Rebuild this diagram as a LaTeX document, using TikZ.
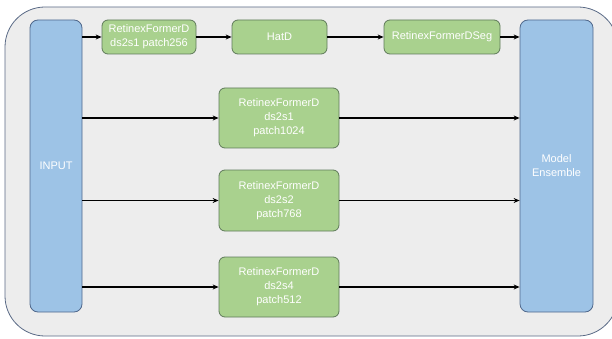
\documentclass[tikz,border=0pt]{standalone}
\usepackage{fontspec}
\setmainfont{Liberation Sans}
\usetikzlibrary{arrows.meta}
\definecolor{outerfill}{HTML}{EDEDED}
\definecolor{outerline}{HTML}{5A6A86}
\definecolor{bluefill}{HTML}{9DC3E6}
\definecolor{blueline}{HTML}{50688C}
\definecolor{greenfill}{HTML}{A9D18E}
\definecolor{greenline}{HTML}{5F7A5A}
\tikzset{
  blk/.style={draw=blueline, fill=bluefill, line width=0.8pt, rounded corners=8pt, text=white, font=\fontsize{11}{14}\selectfont, align=center, inner sep=0pt},
  grn/.style={draw=greenline, fill=greenfill, line width=0.8pt, rounded corners=6pt, text=white, font=\fontsize{11}{14}\selectfont, align=center, inner sep=0pt},
  arr/.style={line width=1.3pt, -{Stealth[length=6pt,width=5pt]}}
}
\begin{document}
\begin{tikzpicture}[x=1pt,y=-1pt]
\useasboundingbox (0,0) rectangle (612,339);
\begin{scope}
\clip (0,0) rectangle (612,339);
\draw[outerline, fill=outerfill, line width=0.8pt, rounded corners=40pt] (5,7) rectangle (618,336);
\end{scope}
% blue columns
\node[blk, minimum width=52pt, minimum height=292pt] (in) at (56,166) {INPUT};
\node[blk, minimum width=73pt, minimum height=292pt] (ens) at (556.5,166) {Model\\Ensemble};
% top row
\node[grn, minimum width=94pt, minimum height=34pt] (r1) at (149,37) {RetinexFormerD\\ds2s1 patch256};
\node[grn, minimum width=95pt, minimum height=34pt] (hat) at (279.5,37) {HatD};
\node[grn, minimum width=116pt, minimum height=34pt] (seg) at (442,37) {RetinexFormerDSeg};
% middle column
\node[grn, minimum width=120pt, minimum height=60pt] (m1) at (279,118) {RetinexFormerD\\ds2s1\\patch1024};
\node[grn, minimum width=120pt, minimum height=61pt] (m2) at (279,200.5) {RetinexFormerD\\ds2s2\\patch768};
\node[grn, minimum width=120pt, minimum height=60pt] (m3) at (279,287) {RetinexFormerD\\ds2s4\\patch512};
% arrows top row
\draw[arr] (in.east |- r1) -- (r1.west);
\draw[arr] (r1.east) -- (hat.west);
\draw[arr] (hat.east) -- (seg.west);
\draw[arr] (seg.east) -- (ens.west |- seg);
% arrows other rows
\draw[arr] (in.east |- m1) -- (m1.west);
\draw[arr] (m1.east) -- (ens.west |- m1);
\draw[arr] (in.east |- m2) -- (m2.west);
\draw[arr] (m2.east) -- (ens.west |- m2);
\draw[arr] (in.east |- m3) -- (m3.west);
\draw[arr] (m3.east) -- (ens.west |- m3);
\end{tikzpicture}
\end{document}
